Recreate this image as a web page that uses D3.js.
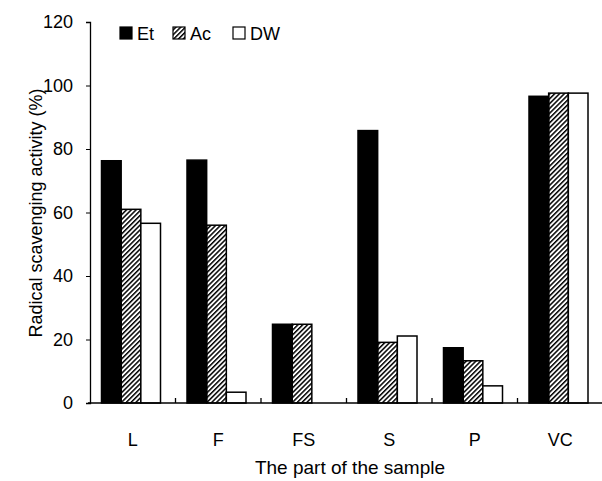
<!DOCTYPE html>
<html>
<head>
<meta charset="utf-8">
<script src="https://cdn.jsdelivr.net/npm/d3@7"></script>
<style>
  body { margin: 0; background: #fff; }
  text { font-family: "Liberation Sans", Arial, sans-serif; fill: #000; }
</style>
</head>
<body>
<div id="chart"></div>
<script>
// Data
const categories = ['L', 'F', 'FS', 'S', 'P', 'VC'];
const seriesNames = ['Et', 'Ac', 'DW'];
const etValues = [76.3, 76.5, 24.8, 85.8, 17.4, 96.6];
const acValues = [61.0, 56.0, 24.8, 19.1, 13.3, 97.6];
const dwValues = [56.6, 3.4, 0, 21.1, 5.4, 97.6];
const yTicks = [0, 20, 40, 60, 80, 100, 120];

const rows = categories.map((c, i) => ({
  cat: c,
  values: [etValues[i], acValues[i], dwValues[i]]
}));

const W = 602, H = 481;
const FONT = '"Liberation Sans", Arial, sans-serif';
const svg = d3.select('#chart')
  .append('svg')
    .attr('width', W)
    .attr('height', H);

// hatch pattern for Ac
const defs = svg.append('defs');
defs.append('pattern')
    .attr('id', 'hatch')
    .attr('patternUnits', 'userSpaceOnUse')
    .attr('width', 3.4)
    .attr('height', 3.4)
    .attr('patternTransform', 'rotate(45)')
  .append('rect')
    .attr('x', 0).attr('y', 0)
    .attr('width', 1.5).attr('height', 3.4)
    .attr('fill', '#000');

// Scales
const x = d3.scaleBand()
  .domain(categories)
  .range([90, 603])
  .padding(0);

const xs = d3.scaleBand()
  .domain(seriesNames)
  .range([11.5, 70.5])
  .padding(0);

const y = d3.scaleLinear()
  .domain([0, 120])
  .range([403, 22]);

const fills = { Et: '#000', Ac: 'url(#hatch)', DW: '#fff' };

// Bars
const groups = svg.selectAll('.grp')
  .data(rows)
  .enter()
  .append('g')
    .attr('class', 'grp')
    .attr('transform', d => `translate(${x(d.cat)},0)`);

groups.selectAll('rect')
  .data(d => d.values.map((v, i) => ({ key: seriesNames[i], v })).filter(e => e.v > 0))
  .enter()
  .append('rect')
    .attr('x', d => xs(d.key))
    .attr('y', d => y(d.v))
    .attr('width', xs.bandwidth())
    .attr('height', d => y(0) - y(d.v))
    .attr('fill', d => fills[d.key])
    .attr('stroke', '#000')
    .attr('stroke-width', 1.5);

// Y axis
const yAxis = svg.append('g')
  .attr('transform', 'translate(90,0)')
  .call(d3.axisLeft(y).tickValues(yTicks).tickSize(4).tickPadding(13));
yAxis.select('.domain').attr('stroke-width', 1.3);
yAxis.selectAll('text').style('font-size', '18px').style('font-family', FONT);

// X axis with inward ticks at group boundaries
const xAxis = svg.append('g')
  .attr('transform', 'translate(0,403)')
  .call(d3.axisBottom(x).tickSize(0).tickPadding(30));
xAxis.select('.domain').attr('stroke-width', 1.3).attr('d', 'M88,0H603');
xAxis.selectAll('text').style('font-size', '18px').style('font-family', FONT);

svg.append('g')
  .selectAll('line')
  .data(categories.slice(1))
  .enter()
  .append('line')
    .attr('x1', d => x(d)).attr('x2', d => x(d))
    .attr('y1', y(0)).attr('y2', y(0) - 5)
    .attr('stroke', '#000')
    .attr('stroke-width', 1.3);

// Axis titles
svg.append('text')
  .attr('transform', 'rotate(-90)')
  .attr('x', -213)
  .attr('y', 42)
  .attr('text-anchor', 'middle')
  .style('font-size', '18px')
  .text('Radical scavenging activity (%)');

svg.append('text')
  .attr('x', 350)
  .attr('y', 474)
  .attr('text-anchor', 'middle')
  .style('font-size', '19px')
  .text('The part of the sample');

// Legend
const legendX = [120, 173, 233];
const legend = svg.append('g');
seriesNames.forEach((s, i) => {
  legend.append('rect')
    .attr('x', legendX[i])
    .attr('y', 27)
    .attr('width', 12)
    .attr('height', 12)
    .attr('fill', fills[s])
    .attr('stroke', '#000')
    .attr('stroke-width', 1.2);
  legend.append('text')
    .attr('x', legendX[i] + 17)
    .attr('y', 40)
    .style('font-size', '18px')
    .text(s);
});
</script>
</body>
</html>
